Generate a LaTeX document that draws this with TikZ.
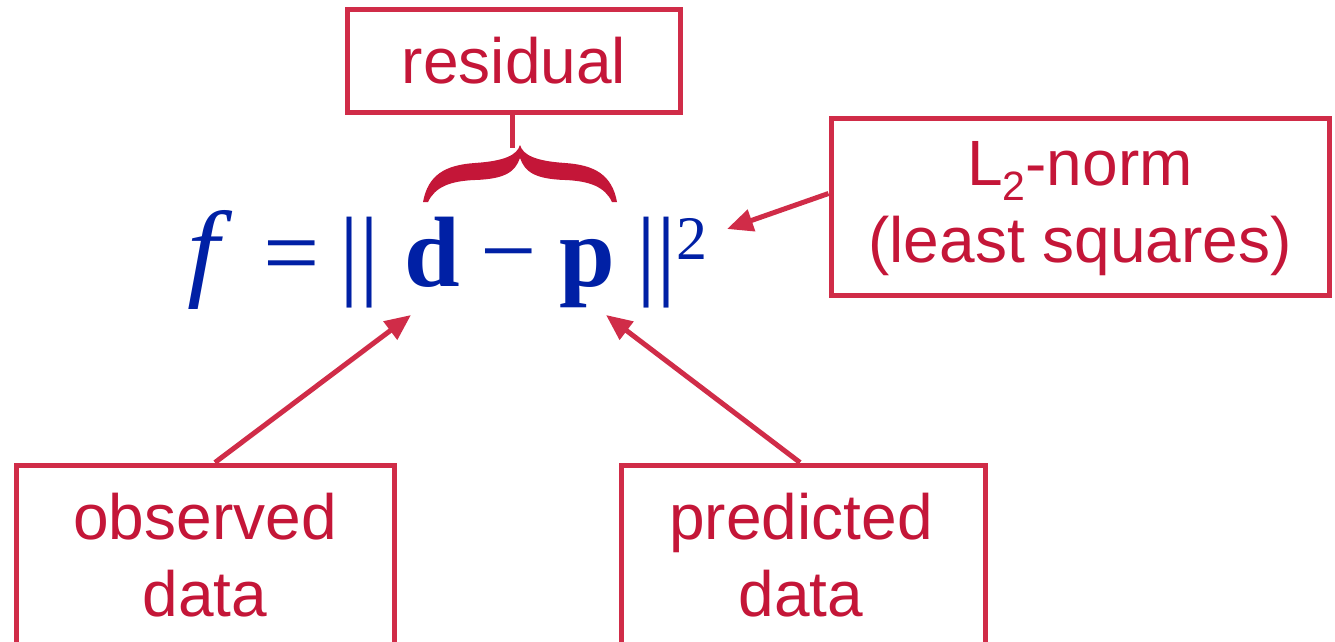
\documentclass[tikz,border=0pt]{standalone}
\usepackage{graphicx}
\usepackage{fontspec}
\setmainfont{Liberation Sans}
\newfontfamily\tms{Liberation Serif}
\usetikzlibrary{arrows.meta}
\definecolor{boxred}{RGB}{208,44,72}
\definecolor{txtred}{RGB}{196,22,56}
\definecolor{eqblue}{RGB}{0,32,165}
\tikzset{
  box/.style={draw=boxred, line width=5pt, fill=none, inner sep=0pt},
  lbl/.style={text=txtred, align=center, inner sep=0pt, font=\fontsize{64}{77}\selectfont},
  eq/.style={text=eqblue, inner sep=0pt, anchor=base, font=\tms\fontsize{100}{100}\selectfont},
  arr/.style={draw=boxred, line width=5pt, -{Triangle[length=26pt,width=22pt]}},
  stem/.style={draw=boxred, line width=5pt}
}
\begin{document}
\begin{tikzpicture}[x=1pt,y=-1pt]
\useasboundingbox (0,0) rectangle (1335,642);
\clip (0,0) rectangle (1335,642);
\fill[white] (0,0) rectangle (1335,642);
% formula
\node[eq] (nf) at (203,286) {\scalebox{1.15}[1.08]{\itshape f}};
\node[eq] (neq) at (292,286) {=};
\node[eq] (nb1) at (360,286) {||};
\node[eq] (nd) at (432,286) {\bfseries d};
\node[eq] (nm) at (509,284) {\char"2212};
\node[eq] (np) at (587,286) {\bfseries p};
\node[eq] (nb2) at (657,286) {||};
\node[eq, font=\tms\fontsize{62}{62}\selectfont] (nsq) at (692,259) {2};
% residual
\node[box, minimum width=333pt, minimum height=103pt] (resbox) at (514,61) {};
\node[lbl] (res) at (514,61) {residual};
\coordinate (bracetop) at (512,148);
\draw[stem] (resbox.south -| bracetop) -- (bracetop);
\fill[txtred] (423,202) .. controls (428,175) and (445,165) .. (475,163)
  .. controls (505,161) and (517,155) .. (520,145)
  .. controls (523,155) and (535,161) .. (565,163)
  .. controls (595,165) and (612,175) .. (617,202)
  -- (612,202) .. controls (605,187) and (590,181) .. (565,180)
  .. controls (535,179) and (525,172) .. (520,158)
  .. controls (515,172) and (505,179) .. (475,180)
  .. controls (450,181) and (435,187) .. (428,202) -- cycle;
% L2-norm
\node[box, minimum width=498pt, minimum height=177pt] (l2box) at (1080,206.5) {};
\node[lbl] (l2) at (1080,209) {L\raisebox{-15pt}{\fontsize{41}{41}\selectfont 2}-norm\\(least squares)};
\coordinate (sqtip) at (727,229);
\draw[arr] ([yshift=13pt]l2box.west) -- (sqtip);
% observed
\node[box, minimum width=378pt, minimum height=200pt] (obsbox) at (205,565) {};
\node[lbl] (obs) at (205,555) {observed\\data};
\coordinate (dtip) at (411,315);
\draw[arr] ([xshift=10pt]obsbox.north) -- (dtip);
% predicted
\node[box, minimum width=364pt, minimum height=200pt] (prebox) at (803,565) {};
\node[lbl] (pre) at (801,555) {predicted\\data};
\coordinate (ptip) at (606,315);
\draw[arr] ([xshift=-3pt]prebox.north) -- (ptip);
\end{tikzpicture}
\end{document}
